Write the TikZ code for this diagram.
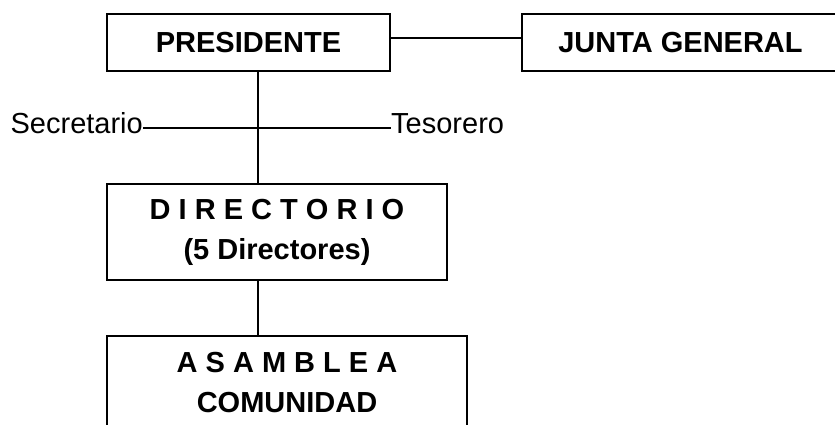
\documentclass[tikz,border=0pt]{standalone}
\usepackage{fontspec}
\setmainfont{Liberation Sans}
\usetikzlibrary{positioning}
\tikzset{
    orgbox/.style={draw, line width=2pt, align=center, inner sep=0pt,
        font=\bfseries\fontsize{29}{40}\selectfont},
    rolelabel/.style={inner sep=0pt, font=\fontsize{29}{34}\selectfont},
    link/.style={line width=1.3pt}
}

\begin{document}
\begin{tikzpicture}[x=1pt, y=-1pt]

    % Frame
    \useasboundingbox (0,0) rectangle (835,424);
    \clip (0,0) rectangle (835,424);

    % Boxes
    \node[orgbox, minimum width=283pt, minimum height=57pt] (presidente) at (248.5,42.5) {PRESIDENTE};
    \node[orgbox, minimum width=318pt, minimum height=57pt] (junta) at (680.5,42.5) {JUNTA GENERAL};
    \node[orgbox, minimum width=340pt, minimum height=96pt] (directorio) at (277,232) {D I R E C T O R I O\\(5 Directores)};
    \node[orgbox, minimum width=360pt, minimum height=93pt] (asamblea) at (287,382.5) {A S A M B L E A\\COMUNIDAD};

    % Side roles
    \node[rolelabel, anchor=base east] (secretario) at (143,133) {Secretario};
    \node[rolelabel, anchor=base west] (tesorero) at (391,133) {Tesorero};

    % Links
    \coordinate (spine) at (258,0);
    \draw[link] ([yshift=4.5pt]presidente.east) -- ([yshift=4.5pt]junta.west);
    \draw[link] (presidente.south -| spine) -- (directorio.north -| spine);
    \draw[link] ([yshift=5pt]secretario.base east) -- ([yshift=5pt]tesorero.base west);
    \draw[link] (directorio.south -| spine) -- (asamblea.north -| spine);

\end{tikzpicture}
\end{document}
